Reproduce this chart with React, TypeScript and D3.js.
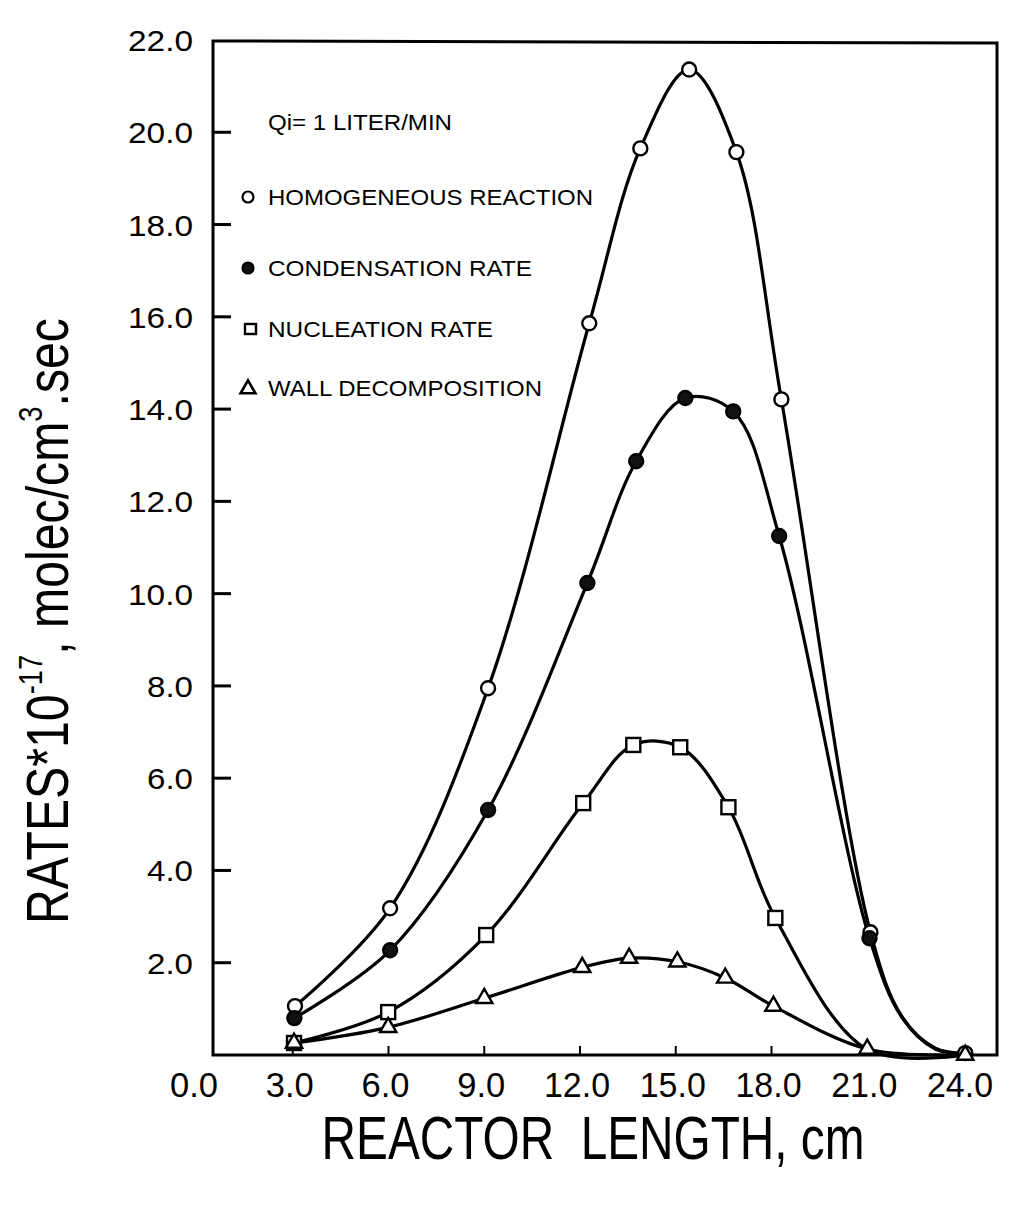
import { useEffect, useRef } from "react";
import * as d3 from "d3";

// Ticks
const X_TICKS = [0, 3, 6, 9, 12, 15, 18, 21, 24];
const Y_TICKS = [2, 4, 6, 8, 10, 12, 14, 16, 18, 20, 22];

// Homogeneous reaction (open circles)
const homogX = [3.07, 6.05, 9.12, 12.29, 13.89, 15.42, 16.9, 18.31, 21.1, 24.07];
const homogY = [1.06, 3.18, 7.95, 15.86, 19.65, 21.36, 19.57, 14.21, 2.66, 0.04];
// Condensation rate (filled circles)
const condX = [3.05, 6.05, 9.12, 12.23, 13.76, 15.3, 16.8, 18.24, 21.07];
const condY = [0.8, 2.27, 5.31, 10.23, 12.87, 14.24, 13.95, 11.25, 2.53];
// Nucleation rate (squares)
const nuclX = [3.04, 5.99, 9.06, 12.1, 13.67, 15.14, 16.65, 18.12];
const nuclY = [0.26, 0.93, 2.6, 5.46, 6.72, 6.67, 5.37, 2.97];
// Wall decomposition (triangles)
const wallX = [3.04, 5.99, 9.0, 12.07, 13.54, 15.05, 16.55, 18.06, 21.0, 24.07];
const wallY = [0.26, 0.6, 1.23, 1.9, 2.1, 2.02, 1.67, 1.06, 0.13, 0.0];

// unmarked points at the tail of the curves
const tailX = [22.1, 23.13];
const homogTailY = [0.82, 0.15];
const condTailX = [22.1, 23.13, 24.07];
const condTailY = [0.8, 0.13, 0.03];
const nuclTailX = [21.0, 24.07];
const nuclTailY = [0.12, 0.0];

type Pt = { x: number; y: number; mark: boolean };

const build = (xs: number[], ys: number[], tx: number[], ty: number[]): Pt[] =>
  [
    ...xs.map((x, i) => ({ x, y: ys[i], mark: true })),
    ...tx.map((x, i) => ({ x, y: ty[i], mark: false })),
  ].sort((a, b) => a.x - b.x);

const FONT = "'Liberation Sans', Arial, Helvetica, sans-serif";

const App = () => {
  const svgRef = useRef<SVGSVGElement>(null);

  useEffect(() => {
    if (!svgRef.current) return;
    const svg = d3.select(svgRef.current);
    svg.selectAll("*").remove();

    // scales (pixel range)
    const x = d3.scaleLinear().domain([0, 24]).range([197, 963]);
    const y = d3.scaleLinear().domain([0, 22]).range([1055, 40]);

    const left = 213;
    const right = 997;
    const top = 41;
    const bottom = 1055;

    // frame
    svg
      .append("path")
      .attr("d", `M${left},${top} L${right},${top + 2} L${right},${bottom} L${left},${bottom} Z`)
      .attr("fill", "none")
      .attr("stroke", "#000")
      .attr("stroke-width", 3);

    // y ticks (inward)
    svg
      .append("g")
      .selectAll("line")
      .data(Y_TICKS.filter((d) => d < 22))
      .enter()
      .append("line")
      .attr("x1", left)
      .attr("x2", left + 18)
      .attr("y1", (d) => y(d))
      .attr("y2", (d) => y(d))
      .attr("stroke", "#000")
      .attr("stroke-width", 3);

    // y tick labels
    svg
      .append("g")
      .selectAll("text")
      .data(Y_TICKS)
      .enter()
      .append("text")
      .attr("x", 193)
      .attr("y", (d) => y(d) + 11)
      .attr("text-anchor", "end")
      .attr("font-family", FONT)
      .attr("font-size", 30)
      .attr("textLength", (d) => (d >= 10 ? 65 : 46))
      .attr("lengthAdjust", "spacingAndGlyphs")
      .text((d) => d.toFixed(1));

    // x ticks (inward)
    svg
      .append("g")
      .selectAll("line")
      .data(X_TICKS.filter((d) => d > 0))
      .enter()
      .append("line")
      .attr("x1", (d) => x(d))
      .attr("x2", (d) => x(d))
      .attr("y1", bottom)
      .attr("y2", bottom - 9)
      .attr("stroke", "#000")
      .attr("stroke-width", 2);

    // x tick labels
    svg
      .append("g")
      .selectAll("text")
      .data(X_TICKS)
      .enter()
      .append("text")
      .attr("x", (d) => x(d) - 3)
      .attr("y", 1097)
      .attr("text-anchor", "middle")
      .attr("font-family", FONT)
      .attr("font-size", 35)
      .attr("textLength", (d) => (d >= 10 ? 66 : 48))
      .attr("lengthAdjust", "spacingAndGlyphs")
      .text((d) => d.toFixed(1));

    // x axis title (condensed with a horizontal scale)
    svg
      .append("text")
      .attr("transform", "translate(593,1159) scale(0.77,1)")
      .attr("text-anchor", "middle")
      .attr("font-family", FONT)
      .attr("font-size", 62)
      .style("white-space", "pre")
      .text("REACTOR  LENGTH, cm");

    // y axis title
    const yt = svg
      .append("text")
      .attr("transform", "translate(68,621) rotate(-90)")
      .attr("text-anchor", "middle")
      .attr("font-family", FONT)
      .attr("font-size", 60)
      .attr("textLength", 606)
      .attr("lengthAdjust", "spacingAndGlyphs");
    yt.append("tspan").text("RATES*10");
    yt.append("tspan").attr("font-size", 34).attr("dy", -26).text("-17");
    yt.append("tspan").attr("dy", 26).text(",  molec/cm");
    yt.append("tspan").attr("font-size", 34).attr("dy", -26).text("3");
    yt.append("tspan").attr("dy", 26).text(".sec");

    // curves
    const line = d3
      .line<Pt>()
      .x((d) => x(d.x))
      .y((d) => y(d.y))
      .curve(d3.curveCatmullRom.alpha(0.5));

    const homog = build(homogX, homogY, tailX, homogTailY);
    const cond = build(condX, condY, condTailX, condTailY);
    const nucl = build(nuclX, nuclY, nuclTailX, nuclTailY);
    const wall = build(wallX, wallY, [], []);

    [homog, cond, nucl, wall].forEach((s) => {
      svg
        .append("path")
        .datum(s)
        .attr("d", line)
        .attr("fill", "none")
        .attr("stroke", "#000")
        .attr("stroke-width", 3.2)
        .attr("stroke-linejoin", "round");
    });

    const tri = d3.symbol().type(d3.symbolTriangle).size(115);

    // markers
    const drawCircles = (pts: Pt[], filled: boolean) =>
      svg
        .append("g")
        .selectAll("circle")
        .data(pts.filter((p) => p.mark))
        .enter()
        .append("circle")
        .attr("cx", (d) => x(d.x))
        .attr("cy", (d) => y(d.y))
        .attr("r", 7)
        .attr("fill", filled ? "#111" : "#fff")
        .attr("stroke", "#000")
        .attr("stroke-width", 2.4);

    drawCircles(homog, false);
    drawCircles(cond, true);

    svg
      .append("g")
      .selectAll("rect")
      .data(nucl.filter((p) => p.mark))
      .enter()
      .append("rect")
      .attr("x", (d) => x(d.x) - 7)
      .attr("y", (d) => y(d.y) - 7)
      .attr("width", 14)
      .attr("height", 14)
      .attr("fill", "#fff")
      .attr("stroke", "#000")
      .attr("stroke-width", 2.4);

    svg
      .append("g")
      .selectAll("path")
      .data(wall.filter((p) => p.mark))
      .enter()
      .append("path")
      .attr("d", tri)
      .attr("transform", (d) => `translate(${x(d.x)},${y(d.y)})`)
      .attr("fill", "#fff")
      .attr("stroke", "#000")
      .attr("stroke-width", 2.4);

    // legend
    const leg = svg.append("g").attr("font-family", FONT).attr("font-size", 22);
    const items = [
      { label: "Qi= 1 LITER/MIN", cy: 122, w: 184, sym: "" },
      { label: "HOMOGENEOUS REACTION", cy: 197, w: 325, sym: "open" },
      { label: "CONDENSATION RATE", cy: 268, w: 264, sym: "filled" },
      { label: "NUCLEATION RATE", cy: 329, w: 225, sym: "square" },
      { label: "WALL DECOMPOSITION", cy: 388, w: 274, sym: "tri" },
    ];
    items.forEach((it) => {
      leg
        .append("text")
        .attr("x", 268)
        .attr("y", it.cy + 8)
        .attr("textLength", it.w)
        .attr("lengthAdjust", "spacingAndGlyphs")
        .text(it.label);
      if (it.sym === "open" || it.sym === "filled") {
        leg
          .append("circle")
          .attr("cx", 248)
          .attr("cy", it.cy)
          .attr("r", 5.5)
          .attr("fill", it.sym === "filled" ? "#111" : "#fff")
          .attr("stroke", "#000")
          .attr("stroke-width", 2.2);
      } else if (it.sym === "square") {
        leg
          .append("rect")
          .attr("x", 245)
          .attr("y", it.cy - 5)
          .attr("width", 11)
          .attr("height", 10)
          .attr("fill", "#fff")
          .attr("stroke", "#000")
          .attr("stroke-width", 2.4);
      } else if (it.sym === "tri") {
        leg
          .append("path")
          .attr("d", d3.symbol().type(d3.symbolTriangle).size(95)())
          .attr("transform", `translate(248,${it.cy + 1})`)
          .attr("fill", "#fff")
          .attr("stroke", "#000")
          .attr("stroke-width", 2.6);
      }
    });
  }, []);

  return (
    <svg
      ref={svgRef}
      width={1013}
      height={1209}
      style={{ position: "absolute", left: 0, top: 0, background: "#fff" }}
    />
  );
};

export default App;
